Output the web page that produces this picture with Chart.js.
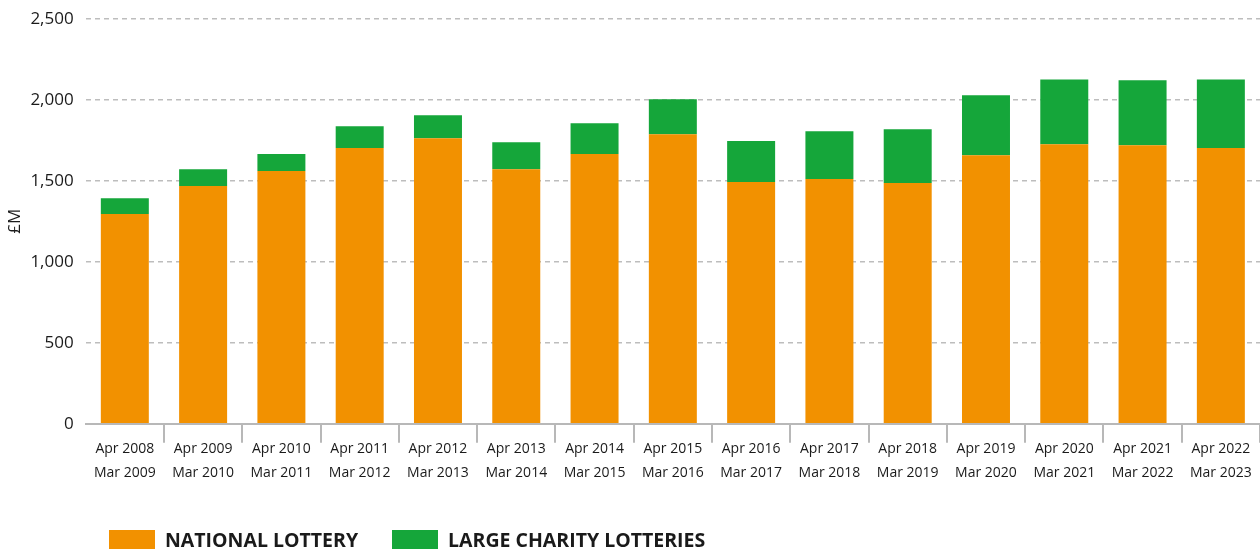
<!DOCTYPE html>
<html>
<head>
<meta charset="utf-8">
<script src="https://cdn.jsdelivr.net/npm/chart.js@4"></script>
<style>
  html, body { margin: 0; padding: 0; background: #fff; }
  #wrap { position: relative; width: 1260px; height: 551px; }
  #lotteryChart { display: block; }
  #legend { position: absolute; left: 109px; top: 529px; display: flex; align-items: center;
            font-family: "Open Sans", sans-serif; font-weight: 700; font-size: 19.5px; color: #1a1a1a; line-height: 21px; }
  #legend .item { display: flex; align-items: center; margin-right: 34px; }
  #legend .box { width: 46px; height: 19px; margin-right: 10px; }
</style>
</head>
<body>
<div id="wrap">
  <canvas id="lotteryChart" width="1260" height="551"></canvas>
  <div id="legend"></div>
</div>
<script>
const years = [
    ['Apr 2008', 'Mar 2009'], ['Apr 2009', 'Mar 2010'], ['Apr 2010', 'Mar 2011'],
    ['Apr 2011', 'Mar 2012'], ['Apr 2012', 'Mar 2013'], ['Apr 2013', 'Mar 2014'],
    ['Apr 2014', 'Mar 2015'], ['Apr 2015', 'Mar 2016'], ['Apr 2016', 'Mar 2017'],
    ['Apr 2017', 'Mar 2018'], ['Apr 2018', 'Mar 2019'], ['Apr 2019', 'Mar 2020'],
    ['Apr 2020', 'Mar 2021'], ['Apr 2021', 'Mar 2022'], ['Apr 2022', 'Mar 2023']
];
const nationalLottery = [1295, 1468, 1560, 1702, 1763, 1572, 1665, 1788, 1492, 1511, 1486, 1658, 1726, 1720, 1702];
const charityLotteries = [98, 104, 105, 135, 142, 166, 190, 215, 253, 295, 332, 370, 400, 400, 424];

const orange = '#f29100';
const green = '#15a63a';

const ctx = document.getElementById('lotteryChart').getContext('2d');
const chart = new Chart(ctx, {
    type: 'bar',
    data: {
        labels: years,
        datasets: [{
            label: 'NATIONAL LOTTERY',
            data: nationalLottery,
            backgroundColor: orange
        }, {
            label: 'LARGE CHARITY LOTTERIES',
            data: charityLotteries,
            backgroundColor: green
        }]
    },
    options: {
        responsive: false,
        animation: false,
        barPercentage: 0.613,
        categoryPercentage: 1,
        layout: { padding: { top: 0, right: 0, left: -8, bottom: 72 } },
        plugins: {
            legend: { display: false },
            tooltip: { enabled: false }
        },
        scales: {
            x: {
                stacked: true,
                offset: true,
                grid: {
                    offset: true,
                    drawOnChartArea: false,
                    tickLength: 19,
                    lineWidth: 2,
                    color: ctx => ctx.index === 0 ? 'rgba(0,0,0,0)' : '#b8b8b8'
                },
                border: { display: true, color: '#b8b8b8', width: 2 },
                ticks: {
                    color: '#1a1a1a',
                    font: { family: 'Open Sans', size: 14, lineHeight: 1.72 },
                    padding: -6,
                    maxRotation: 0,
                    autoSkip: false
                }
            },
            y: {
                stacked: true,
                min: 0,
                max: 2500,
                ticks: {
                    stepSize: 500,
                    color: '#1a1a1a',
                    font: { family: 'Open Sans', size: 17, lineHeight: 0.8 },
                    padding: 12
                },
                grid: {
                    drawTicks: false,
                    color: '#bdbdbd',
                    lineWidth: 1.5
                },
                border: { display: false, dash: [5, 4] },
                title: {
                    display: true,
                    text: '£M',
                    color: '#1a1a1a',
                    font: { family: 'Open Sans', size: 17 },
                    padding: { top: 13, bottom: -7 }
                }
            }
        }
    }
});

// legend below the plot
const legend = document.getElementById('legend');
chart.data.datasets.forEach(ds => {
    const item = document.createElement('div');
    item.className = 'item';
    item.innerHTML = '<span class="box" style="background:' + ds.backgroundColor + '"></span>' + ds.label;
    legend.appendChild(item);
});
</script>
</body>
</html>
